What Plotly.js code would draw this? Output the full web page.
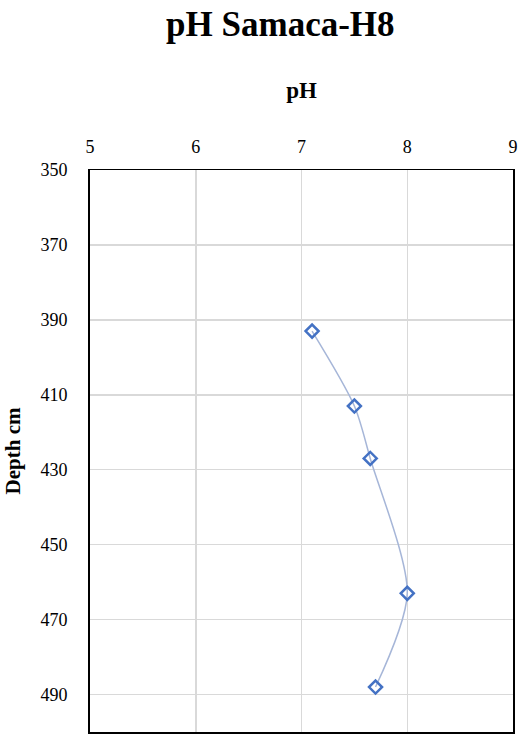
<!DOCTYPE html>
<html><head><meta charset="utf-8">
<script src="https://cdn.plot.ly/plotly-3.0.1.min.js"></script>
<style>body{margin:0;background:#fff}#c{width:532px;height:750px}</style>
</head><body><div id="c"></div>
<script>
const phValues = [7.1, 7.5, 7.65, 8.0, 7.7];
const depthValues = [393, 413, 427, 463, 488];
const xTicks = [5, 6, 7, 8, 9];
const yTicks = [350, 370, 390, 410, 430, 450, 470, 490];

const trace = {
  x: phValues, y: depthValues, type: 'scatter', mode: 'lines+markers',
  line: {shape: 'spline', smoothing: 0.8, color: '#a6b6d8', width: 1.5},
  marker: {symbol: 'diamond-open', size: 10, color: '#4472c4', line: {width: 2.5, color: '#4472c4'}},
  hoverinfo: 'none'
};
const font = {family: '"Liberation Serif", "Times New Roman", serif', color: '#000'};
const layout = {
  width: 532, height: 750,
  margin: {l: 90, r: 19, t: 170, b: 18},
  paper_bgcolor: '#fff', plot_bgcolor: '#fff',
  showlegend: false,
  font: font,
  title: {text: '<b>pH Samaca-H8</b>', x: 0.527, xanchor: 'center', y: 0.968, yanchor: 'middle',
          font: {family: font.family, size: 35, color: '#000'}},
  xaxis: {
    side: 'top', range: [5, 9], tickvals: xTicks, ticktext: xTicks.map(String),
    showgrid: true, gridcolor: '#d9d9d9', gridwidth: 1.5,
    showline: true, linecolor: '#000', linewidth: 1.5, mirror: true,
    ticks: 'outside', ticklen: 8, tickcolor: 'rgba(0,0,0,0)',
    tickfont: {family: font.family, size: 18, color: '#000'},
    zeroline: false,
    title: {text: '<b>pH</b>', standoff: 32, font: {family: font.family, size: 23, color: '#000'}}
  },
  yaxis: {
    range: [500, 350], tickvals: yTicks, ticktext: yTicks.map(String),
    showgrid: true, gridcolor: '#d9d9d9', gridwidth: 1.5,
    showline: true, linecolor: '#000', linewidth: 2, mirror: true,
    ticks: 'outside', ticklen: 17, tickcolor: 'rgba(0,0,0,0)',
    tickfont: {family: font.family, size: 18, color: '#000'},
    zeroline: false,
    title: {text: '<b>Depth cm</b>', standoff: 14, font: {family: font.family, size: 21, color: '#000'}}
  }
};
Plotly.newPlot('c', [trace], layout, {displayModeBar: false, staticPlot: true});
</script></body></html>
